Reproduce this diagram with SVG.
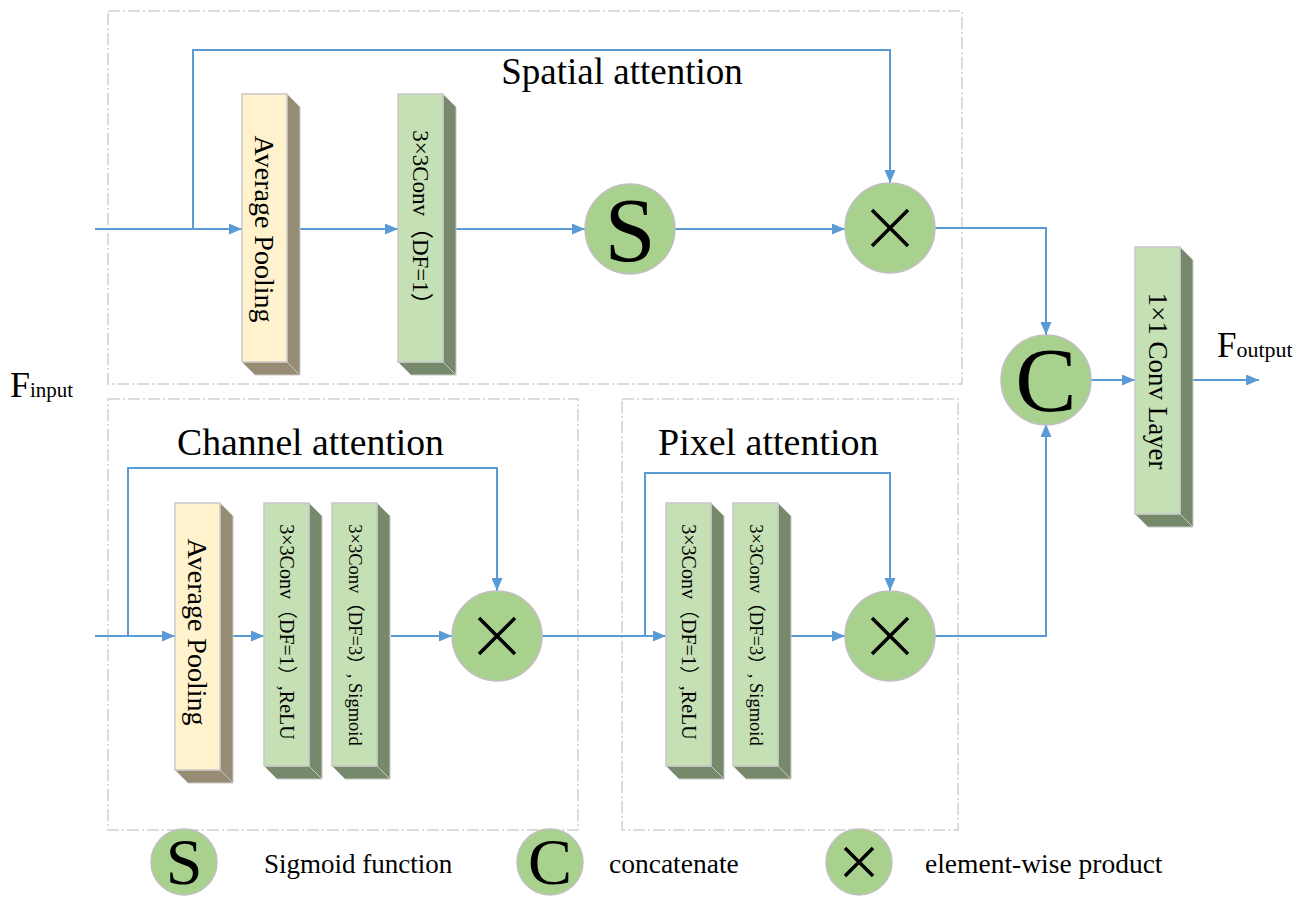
<svg xmlns="http://www.w3.org/2000/svg" width="1308" height="898" viewBox="0 0 1308 898">
<defs>
<marker id="arr" markerUnits="userSpaceOnUse" markerWidth="13" markerHeight="11" refX="13" refY="5.5" orient="auto"><path d="M0,0 L13,5.5 L0,11 z" fill="#5b9bd5"/></marker>
<style>
.frame{fill:none;stroke:#d0d0d0;stroke-width:1.5;stroke-dasharray:12 3 2 3}
.conn{fill:none;stroke:#5b9bd5;stroke-width:2}
.yf{fill:#fff2cc;stroke:#c8c8c8;stroke-width:1.5}
.ys{fill:#968c73;stroke:#c8c8c8;stroke-width:1}
.gf{fill:#c5e0b4;stroke:#c8c8c8;stroke-width:1.5}
.gs{fill:#76896a;stroke:#c8c8c8;stroke-width:1}
.circ{fill:#a9d18e;stroke:#c0c0c0;stroke-width:1.5}
.x{stroke:#000;stroke-width:3.5;fill:none}
text{font-family:"Liberation Serif","Noto Sans CJK SC",serif;fill:#000}
.bt{text-anchor:middle}
</style>
</defs>
<rect width="1308" height="898" fill="#fff"/>
<g id="frames">
<rect class="frame" x="108" y="11" width="854" height="373"/>
<rect class="frame" x="108" y="399" width="470" height="431"/>
<rect class="frame" x="622" y="399" width="336" height="431"/>
</g>
<g id="titles">
<text x="622" y="84" font-size="37" text-anchor="middle">Spatial attention</text>
<text x="177" y="455" font-size="37.7">Channel attention</text>
<text x="658" y="455" font-size="38">Pixel attention</text>
<text x="10" y="397" font-size="36">F<tspan font-size="21">input</tspan></text>
<text x="1217" y="357" font-size="35">F<tspan font-size="22">output</tspan></text>
</g>
<g id="connectors">
<path class="conn" d="M95,229 H242" marker-end="url(#arr)"/>
<path class="conn" d="M193,229 V50 H890 V183" marker-end="url(#arr)"/>
<path class="conn" d="M300,229 H398" marker-end="url(#arr)"/>
<path class="conn" d="M456,229 H585" marker-end="url(#arr)"/>
<path class="conn" d="M675,229 H845" marker-end="url(#arr)"/>
<path class="conn" d="M935,228 H1046 V335" marker-end="url(#arr)"/>
<path class="conn" d="M95,636 H175" marker-end="url(#arr)"/>
<path class="conn" d="M128,636 V468 H497 V591" marker-end="url(#arr)"/>
<path class="conn" d="M233,636 H264" marker-end="url(#arr)"/>
<path class="conn" d="M391,636 H452" marker-end="url(#arr)"/>
<path class="conn" d="M542,636 H666" marker-end="url(#arr)"/>
<path class="conn" d="M645,636 V473 H890 V591" marker-end="url(#arr)"/>
<path class="conn" d="M791,636 H845" marker-end="url(#arr)"/>
<path class="conn" d="M935,636 H1046 V424" marker-end="url(#arr)"/>
<path class="conn" d="M1090,380 H1135" marker-end="url(#arr)"/>
<path class="conn" d="M1193,380 H1259" marker-end="url(#arr)"/>
</g>
<g id="sp_avgpool">
<polygon class="ys" points="287,94 300,107 300,375 287,362"/>
<polygon class="ys" points="242,362 287,362 300,375 255,375"/>
<rect class="yf" x="242" y="94" width="45" height="268"/>
<text class="bt" font-size="28" transform="translate(264.5,229) rotate(90)" dy="10">Average Pooling</text>
</g>
<g id="sp_conv">
<polygon class="gs" points="443,94 456,107 456,375 443,362"/>
<polygon class="gs" points="398,362 443,362 456,375 411,375"/>
<rect class="gf" x="398" y="94" width="45" height="268"/>
<text class="bt" font-size="23" transform="translate(420.5,223) rotate(90)" dy="8">3×3Conv（DF=1）</text>
</g>
<g id="sp_sigmoid">
<circle class="circ" cx="630" cy="229" r="45"/>
<text class="bt" x="630" y="261" font-size="92">S</text>
</g>
<g id="sp_product">
<circle class="circ" cx="890" cy="228" r="45"/>
<path class="x" d="M872,210 L908,246 M908,210 L872,246"/>
</g>
<g id="ch_avgpool">
<polygon class="ys" points="220,503 233,516 233,783 220,770"/>
<polygon class="ys" points="175,770 220,770 233,783 188,783"/>
<rect class="yf" x="175" y="503" width="45" height="267"/>
<text class="bt" font-size="28" transform="translate(197.5,632) rotate(90)" dy="10">Average Pooling</text>
</g>
<g id="ch_conv1">
<polygon class="gs" points="309,503 322,516 322,779 309,766"/>
<polygon class="gs" points="264,766 309,766 322,779 277,779"/>
<rect class="gf" x="264" y="503" width="45" height="263"/>
<text class="bt" font-size="20" transform="translate(286.5,632) rotate(90)" dy="7">3×3Conv（DF=1）,ReLU</text>
</g>
<g id="ch_conv2">
<polygon class="gs" points="377,503 390,516 390,779 377,766"/>
<polygon class="gs" points="332,766 377,766 390,779 345,779"/>
<rect class="gf" x="332" y="503" width="45" height="263"/>
<text class="bt" font-size="18.5" transform="translate(354.5,635) rotate(90)" dy="6">3×3Conv（DF=3）, Sigmoid</text>
</g>
<g id="ch_product">
<circle class="circ" cx="497" cy="636" r="45"/>
<path class="x" d="M479,618 L515,654 M515,618 L479,654"/>
</g>
<g id="px_conv1">
<polygon class="gs" points="711,503 724,516 724,779 711,766"/>
<polygon class="gs" points="666,766 711,766 724,779 679,779"/>
<rect class="gf" x="666" y="503" width="45" height="263"/>
<text class="bt" font-size="20" transform="translate(688.5,632) rotate(90)" dy="7">3×3Conv（DF=1）,ReLU</text>
</g>
<g id="px_conv2">
<polygon class="gs" points="778,503 791,516 791,779 778,766"/>
<polygon class="gs" points="733,766 778,766 791,779 746,779"/>
<rect class="gf" x="733" y="503" width="45" height="263"/>
<text class="bt" font-size="18.5" transform="translate(755.5,635) rotate(90)" dy="6">3×3Conv（DF=3）, Sigmoid</text>
</g>
<g id="px_product">
<circle class="circ" cx="890" cy="636" r="45"/>
<path class="x" d="M872,618 L908,654 M908,618 L872,654"/>
</g>
<g id="concat">
<circle class="circ" cx="1046" cy="380" r="45"/>
<text class="bt" x="1046" y="411" font-size="92">C</text>
</g>
<g id="conv1x1">
<polygon class="gs" points="1180,247 1193,260 1193,527 1180,514"/>
<polygon class="gs" points="1135,514 1180,514 1193,527 1148,527"/>
<rect class="gf" x="1135" y="247" width="45" height="267"/>
<text class="bt" font-size="27" transform="translate(1157.5,381) rotate(90)" dy="9">1×1 Conv Layer</text>
</g>
<g id="legend">
<circle class="circ" cx="184" cy="862" r="33"/>
<text class="bt" x="184" y="884" font-size="66">S</text>
<text x="264" y="873" font-size="27">Sigmoid function</text>
<circle class="circ" cx="550" cy="862" r="33"/>
<text class="bt" x="550" y="884" font-size="66">C</text>
<text x="609" y="873" font-size="27.5">concatenate</text>
<circle class="circ" cx="859" cy="862" r="33"/>
<path class="x" d="M845,848 L873,876 M873,848 L845,876"/>
<text x="925" y="873" font-size="27.5">element-wise product</text>
</g>
</svg>
